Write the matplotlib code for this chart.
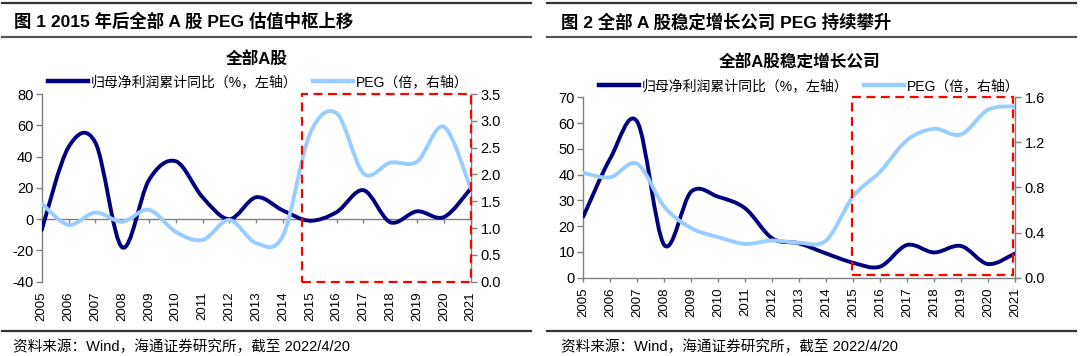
import numpy as np
import matplotlib
matplotlib.use("Agg")
import matplotlib.pyplot as plt
from matplotlib.path import Path
from matplotlib.patches import PathPatch, Rectangle
from matplotlib.lines import Line2D
from matplotlib.transforms import blended_transform_factory

plt.rcParams["font.family"] = ["Liberation Sans", "Noto Sans CJK SC"]
plt.rcParams["axes.unicode_minus"] = False

# ---------------------------------------------------------------------------
# Data
# ---------------------------------------------------------------------------

YEARS = [str(y) for y in range(2005, 2022)]

ALL_PROFIT = [-7, 46, 49, -18, 25, 37, 14, 0, 14, 5.5, -1, 4.5, 18.5, -2, 5, 1.3, 19.5]
ALL_PEG = [1.46, 1.06, 1.29, 1.12, 1.34, 0.93, 0.78, 1.15, 0.72, 0.86,
           2.75, 3.14, 2.02, 2.22, 2.24, 2.89, 1.74]

STABLE_PROFIT = [23.7, 46.3, 60.5, 12.7, 33.4, 31.4, 26.9, 15.3, 13.3, 9.4,
                 5.8, 4.3, 12.7, 9.8, 12.3, 5.3, 9.4]
STABLE_PEG = [0.93, 0.89, 1.01, 0.63, 0.44, 0.36, 0.30, 0.33, 0.31, 0.33,
              0.72, 0.94, 1.22, 1.32, 1.27, 1.49, 1.52]

LBL_PROFIT = "归母净利润累计同比（%，左轴）"
LBL_PEG = "PEG（倍，右轴）"

DARK = "#00007F"
LIGHT = "#99CCFF"
GRAY = "#808080"
W, H = 1080, 356


def fx(x):
    return x / W


def fy(y):
    return 1 - y / H


def smooth_path(ys):
    """Excel-like smoothed line as a cubic bezier path through the points."""
    xs = np.arange(len(ys), dtype=float)
    ys = np.asarray(ys, float)
    px = np.r_[xs[0], xs, xs[-1]]
    py = np.r_[ys[0], ys, ys[-1]]
    verts = [(xs[0], ys[0])]
    codes = [Path.MOVETO]
    for i in range(len(xs) - 1):
        c1 = (px[i + 1] + (px[i + 2] - px[i]) / 6, py[i + 1] + (py[i + 2] - py[i]) / 6)
        c2 = (px[i + 2] - (px[i + 3] - px[i + 1]) / 6, py[i + 2] - (py[i + 3] - py[i + 1]) / 6)
        verts += [c1, c2, (px[i + 2], py[i + 2])]
        codes += [Path.CURVE4] * 3
    return Path(verts, codes)


def draw_panel(rect, profit, peg, ylim, yticks, y2lim, y2ticks,
               zero_axis, box, title, title_y, legend_xy):
    ax = fig.add_axes(rect)
    ax2 = ax.twinx()
    n = len(YEARS)

    ax.add_patch(PathPatch(smooth_path(profit), fill=False, ec=DARK, lw=2.8,
                           joinstyle="round", capstyle="round", zorder=3))
    ax2.add_patch(PathPatch(smooth_path(peg), fill=False, ec=LIGHT, lw=2.8,
                            joinstyle="round", capstyle="round", zorder=3))

    ax.set_xlim(0, n - 1)
    ax.set_ylim(*ylim)
    ax.set_yticks(yticks)
    ax2.set_ylim(*y2lim)
    ax2.set_yticks(y2ticks)
    ax2.set_yticklabels([f"{v:.1f}" for v in y2ticks])

    for a in (ax, ax2):
        a.spines["top"].set_visible(False)
        for s in a.spines.values():
            s.set_color(GRAY)
            s.set_linewidth(1.0)
    ax.spines["right"].set_visible(False)
    ax2.spines["left"].set_visible(False)
    ax2.spines["bottom"].set_visible(False)

    ax.tick_params(axis="y", direction="out", length=4, width=1, color=GRAY,
                   labelsize=10.5, pad=2)
    ax2.tick_params(axis="y", direction="out", length=4, width=1, color=GRAY,
                    labelsize=10.5, pad=3)

    ax.set_xticks(range(n))
    if zero_axis:
        ax.spines["bottom"].set_position(("data", 0))
        ax.set_xticklabels([])
        ax.tick_params(axis="x", direction="out", length=3, width=1, color=GRAY)
        sec = ax.secondary_xaxis("bottom")
        sec.set_xticks(range(n))
        sec.set_xticklabels(YEARS, rotation=90)
        sec.tick_params(length=0, labelsize=9.5, pad=7)
        sec.spines["bottom"].set_visible(False)
    else:
        ax.set_xticklabels(YEARS, rotation=90)
        ax.tick_params(axis="x", direction="out", length=3, width=1, color=GRAY,
                       labelsize=9.5, pad=4)

    # red dashed highlight box (x in data units, y in axes fraction)
    x0, x1, y0, y1 = box
    tr = blended_transform_factory(ax2.transData, ax2.transAxes)
    ax2.add_patch(Rectangle((x0, y0), x1 - x0, y1 - y0, transform=tr, fill=False,
                            ec="red", lw=1.6, ls=(0, (4, 2.5)), clip_on=False, zorder=5))

    cx = rect[0] + rect[2] / 2
    fig.text(cx, fy(title_y), title, ha="center", va="center", fontsize=12,
             fontweight="bold")

    handles = [Line2D([], [], color=DARK, lw=3.2),
               Line2D([], [], color=LIGHT, lw=3.2)]
    fig.legend(handles, [LBL_PROFIT, LBL_PEG], loc="center",
               bbox_to_anchor=(fx(legend_xy[0]), fy(legend_xy[1])), ncol=2,
               frameon=False, fontsize=10, handlelength=2.9, handletextpad=0.2,
               columnspacing=1.1, borderpad=0)
    return ax, ax2


fig = plt.figure(figsize=(W / 100, H / 100), dpi=100)

# left panel
draw_panel([fx(41.7), fy(281.7), fx(429), 187.7 / H], ALL_PROFIT, ALL_PEG,
           (-40, 80), range(-40, 81, 20), (0, 3.5), np.arange(0, 3.51, 0.5),
           True, (9.70, 16, 0.0, 1.0), "全部A股", 60, (258, 82))

# right panel
draw_panel([fx(583.3), fy(277.7), fx(431.7), 180.4 / H], STABLE_PROFIT, STABLE_PEG,
           (0, 70), range(0, 71, 10), (0, 1.6), np.arange(0, 1.61, 0.4),
           False, (9.95, 15.94, 0.015, 1.003), "全部A股稳定增长公司", 62, (809, 86))

# header / footer rules and texts
for x0, x1 in ((2, 531), (547, 1076)):
    for y, c in ((2.7, "#333333"), (37.3, "#555555"), (330.7, "#333333")):
        fig.add_artist(Line2D([fx(x0), fx(x1)], [fy(y), fy(y)], color=c, lw=1.6,
                              transform=fig.transFigure))

fig.text(fx(14), fy(21.5), "图 1 2015 年后全部 A 股 PEG 估值中枢上移", fontsize=12.5,
         fontweight="bold", va="center")
fig.text(fx(561), fy(21.5), "图 2 全部 A 股稳定增长公司 PEG 持续攀升", fontsize=12.5,
         fontweight="bold", va="center")
fig.text(fx(13), fy(346.5), "资料来源：Wind，海通证券研究所，截至 2022/4/20",
         fontsize=10.5, va="center")
fig.text(fx(561), fy(346.5), "资料来源：Wind，海通证券研究所，截至 2022/4/20",
         fontsize=10.5, va="center")

fig.savefig("out.png", dpi=100)
